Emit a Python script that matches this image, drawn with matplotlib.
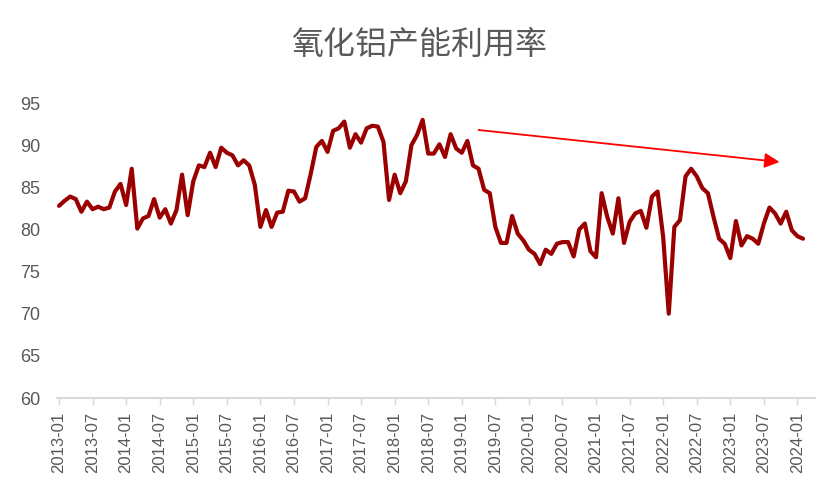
import numpy as np
import pandas as pd
import matplotlib
matplotlib.use("Agg")
import matplotlib.pyplot as plt

# ---- data ----
title = "氧化铝产能利用率"
start_month = "2013-01"
utilization = [
    82.8, 83.4, 83.9, 83.6, 82.1, 83.3, 82.4, 82.7, 82.4, 82.6, 84.5, 85.4,   # 2013
    82.9, 87.2, 80.1, 81.3, 81.6, 83.6, 81.4, 82.4, 80.7, 82.3, 86.5, 81.7,   # 2014
    85.7, 87.6, 87.4, 89.1, 87.4, 89.7, 89.1, 88.8, 87.6, 88.2, 87.6, 85.3,   # 2015
    80.3, 82.3, 80.3, 82.0, 82.1, 84.6, 84.5, 83.3, 83.7, 86.6, 89.8, 90.5,   # 2016
    89.2, 91.7, 92.0, 92.8, 89.7, 91.3, 90.3, 92.0, 92.3, 92.2, 90.4, 83.5,   # 2017
    86.5, 84.3, 85.7, 90.0, 91.2, 93.0, 89.0, 89.0, 90.1, 88.6, 91.3, 89.6,   # 2018
    89.1, 90.5, 87.6, 87.2, 84.7, 84.3, 80.3, 78.4, 78.4, 81.6, 79.5, 78.7,   # 2019
    77.6, 77.1, 75.9, 77.6, 77.1, 78.3, 78.5, 78.5, 76.8, 80.0, 80.7, 77.4,   # 2020
    76.7, 84.3, 81.5, 79.5, 83.7, 78.4, 80.9, 81.9, 82.2, 80.2, 83.9, 84.5,   # 2021
    79.1, 70.0, 80.3, 81.1, 86.3, 87.2, 86.3, 84.9, 84.3, 81.5, 78.9, 78.3,   # 2022
    76.6, 81.0, 78.1, 79.2, 78.9, 78.3, 80.7, 82.6, 81.9, 80.7, 82.1, 79.9,   # 2023
    79.2, 78.9,                                                               # 2024
]
tick_labels = ["2013-01", "2013-07", "2014-01", "2014-07", "2015-01", "2015-07",
               "2016-01", "2016-07", "2017-01", "2017-07", "2018-01", "2018-07",
               "2019-01", "2019-07", "2020-01", "2020-07", "2021-01", "2021-07",
               "2022-01", "2022-07", "2023-01", "2023-07", "2024-01"]
y_ticks = [60, 65, 70, 75, 80, 85, 90, 95]
# trend arrow (month position, value)
arrow_x = [75.0, 128.8]
arrow_y = [91.8, 88.0]

# ---- plot ----
months = pd.date_range(start_month, periods=len(utilization), freq="MS")
labels_all = [m.strftime("%Y-%m") for m in months]
x = np.arange(len(utilization))
tick_pos = [labels_all.index(t) for t in tick_labels]

fig = plt.figure(figsize=(8.4, 5.04), dpi=100)
ax = fig.add_axes([0.0679, 0.2103, 0.9024, 0.5853])

ax.plot(x, utilization, color="#9B0000", lw=3.0, solid_joinstyle="round",
        solid_capstyle="round", zorder=3)

ax.annotate("", xy=(arrow_x[1], arrow_y[1]), xytext=(arrow_x[0], arrow_y[0]),
            arrowprops=dict(arrowstyle="-|>,head_length=0.6,head_width=0.3",
                            color="#FF0000", lw=1.3, mutation_scale=15,
                            shrinkA=0, shrinkB=0), zorder=4)

ax.set_xlim(-0.35, len(utilization) - 0.65 + 1.8)
ax.set_ylim(60, 95)
ax.set_yticks(y_ticks)
ax.set_yticklabels([str(v) for v in y_ticks], fontsize=13, color="#595959",
                   family="Liberation Sans")
ax.set_xticks(tick_pos)
ax.set_xticklabels(tick_labels, rotation=90, fontsize=12, color="#595959",
                   family="Liberation Sans")

for s in ["top", "right", "left"]:
    ax.spines[s].set_visible(False)
ax.spines["bottom"].set_color("#D9D9D9")
ax.spines["bottom"].set_linewidth(1.5)
ax.tick_params(axis="y", length=0, pad=12)
ax.tick_params(axis="x", length=5, width=1, color="#D9D9D9", pad=5)

fig.text(0.4988, 0.91, title, ha="center", va="center", fontsize=23,
         color="#595959", family=["Noto Sans CJK SC", "DejaVu Sans"])

fig.savefig("out.png", dpi=100, facecolor="white")
